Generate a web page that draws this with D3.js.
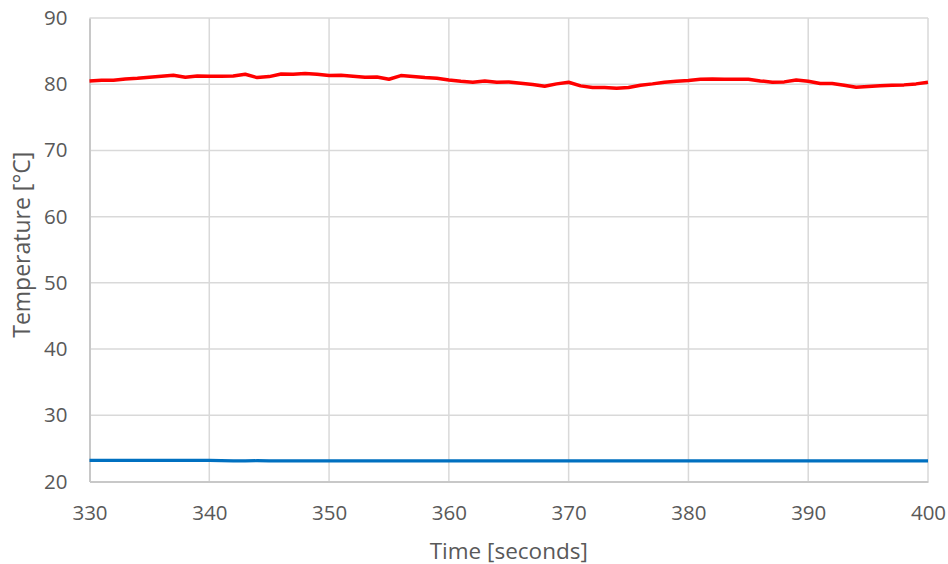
<!DOCTYPE html>
<html>
<head>
<meta charset="utf-8">
<script src="https://d3js.org/d3.v7.min.js"></script>
<style>
  body { margin: 0; background: #fff; }
  text { font-family: "Open Sans", sans-serif; fill: #595959; }
</style>
</head>
<body>
<div id="chart"></div>
<script>
// seconds 330..400, one sample per second
var startTime = 330;
var hotTemps = [
  80.5, 80.6, 80.6, 80.8, 80.9, 81.05, 81.2, 81.35, 81.05, 81.25,
  81.2, 81.2, 81.25, 81.5, 81.0, 81.15, 81.55, 81.5, 81.6, 81.5,
  81.3, 81.35, 81.2, 81.05, 81.1, 80.75, 81.3, 81.15, 81.0, 80.9,
  80.65, 80.45, 80.3, 80.5, 80.3, 80.35, 80.15, 79.95, 79.7, 80.05,
  80.3, 79.75, 79.5, 79.5, 79.4, 79.5, 79.85, 80.05, 80.3, 80.45,
  80.55, 80.75, 80.8, 80.75, 80.75, 80.75, 80.5, 80.3, 80.35, 80.65,
  80.45, 80.1, 80.1, 79.85, 79.55, 79.65, 79.75, 79.85, 79.9, 80.05,
  80.3
];
var roomTemps = [
  23.2, 23.2, 23.2, 23.2, 23.2, 23.2, 23.2, 23.2, 23.2, 23.2,
  23.2, 23.15, 23.1, 23.1, 23.15, 23.1, 23.1, 23.1, 23.1, 23.1,
  23.1, 23.1, 23.1, 23.1, 23.1, 23.1, 23.1, 23.1, 23.1, 23.1,
  23.1, 23.1, 23.1, 23.1, 23.1, 23.1, 23.1, 23.1, 23.1, 23.1,
  23.1, 23.1, 23.1, 23.1, 23.1, 23.1, 23.1, 23.1, 23.1, 23.1,
  23.1, 23.1, 23.1, 23.1, 23.1, 23.1, 23.1, 23.1, 23.1, 23.1,
  23.1, 23.1, 23.1, 23.1, 23.1, 23.1, 23.1, 23.1, 23.1, 23.1,
  23.1
];
var xTicks = [330, 340, 350, 360, 370, 380, 390, 400];
var yTicks = [20, 30, 40, 50, 60, 70, 80, 90];

var margin = {top: 18, left: 89.5, right: 20, bottom: 82.5},
    width = 948 - margin.left - margin.right,
    height = 564 - margin.top - margin.bottom;

var svg = d3.select("#chart").append("svg")
    .attr("width", 948)
    .attr("height", 564)
  .append("g")
    .attr("transform", "translate(" + margin.left + "," + margin.top + ")");

var x = d3.scaleLinear().domain([330, 400]).range([0, width]);
var y = d3.scaleLinear().domain([20, 90]).range([height, 0]);

// gridlines
svg.append("g").selectAll("line.hgrid").data(yTicks.slice(1)).enter().append("line")
    .attr("x1", 0).attr("x2", width)
    .attr("y1", function(d) { return y(d); }).attr("y2", function(d) { return y(d); })
    .style("stroke", "#d9d9d9").style("stroke-width", 1.5);
svg.append("g").selectAll("line.vgrid").data(xTicks.slice(1)).enter().append("line")
    .attr("y1", 0).attr("y2", height)
    .attr("x1", function(d) { return x(d); }).attr("x2", function(d) { return x(d); })
    .style("stroke", "#d9d9d9").style("stroke-width", 1.5);

// axes
var xAxis = svg.append("g")
    .attr("transform", "translate(0," + height + ")")
    .call(d3.axisBottom(x).tickValues(xTicks).tickSize(0).tickPadding(24));
var yAxis = svg.append("g")
    .call(d3.axisLeft(y).tickValues(yTicks).tickSize(0).tickPadding(22));
[xAxis, yAxis].forEach(function(a) {
  a.select(".domain").style("stroke", "#c8c8c8").style("stroke-width", 2);
  a.selectAll("text").style("font-size", "20.5px").style("fill", "#595959")
    .style("font-family", "'Open Sans', sans-serif");
});

var line = d3.line()
    .x(function(d, i) { return x(startTime + i); })
    .y(function(d) { return y(d); });

svg.append("path").datum(roomTemps)
    .attr("d", line)
    .style("fill", "none").style("stroke", "#0070c0").style("stroke-width", 3.2);

svg.append("path").datum(hotTemps)
    .attr("d", line)
    .style("fill", "none").style("stroke", "#ff0000").style("stroke-width", 3.5)
    .style("stroke-linejoin", "round");

// axis titles
svg.append("text")
    .attr("x", width / 2).attr("y", height + 77)
    .attr("text-anchor", "middle")
    .style("font-size", "22.5px")
    .text("Time [seconds]");
svg.append("text")
    .attr("transform", "translate(" + (-margin.left + 30) + "," + (height / 2 - 5) + ") rotate(-90)")
    .attr("text-anchor", "middle")
    .style("font-size", "23px")
    .text("Temperature [°C]");
</script>
</body>
</html>
